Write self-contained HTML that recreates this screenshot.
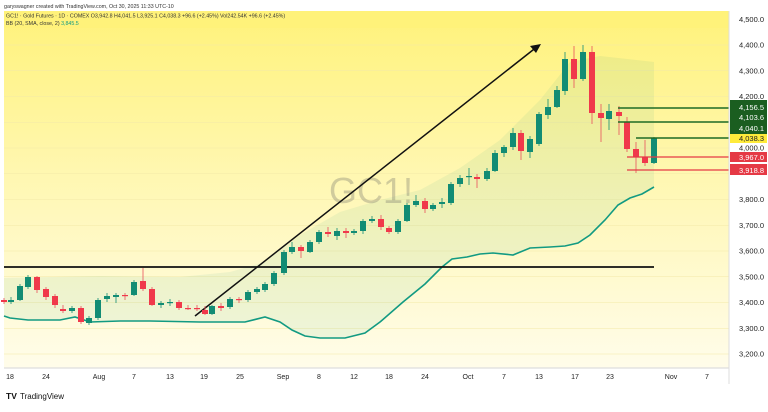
<!DOCTYPE html>
<html><head><meta charset="utf-8"><style>
html,body{margin:0;padding:0;background:#fff;}
body{width:768px;height:407px;overflow:hidden;font-family:"Liberation Sans",sans-serif;}
svg text{font-family:"Liberation Sans",sans-serif;}
</style></head><body>
<svg id="s" width="768" height="407" viewBox="0 0 768 407" xmlns="http://www.w3.org/2000/svg">
<defs>
<linearGradient id="bg" x1="0" y1="0" x2="0" y2="1">
<stop offset="0" stop-color="#fff27a"/>
<stop offset="0.45" stop-color="#fff7b0"/>
<stop offset="1" stop-color="#fffcea"/>
</linearGradient>
</defs>
<rect x="0" y="0" width="768" height="407" fill="#fff"/>
<rect x="4" y="11" width="725" height="357" fill="url(#bg)"/>
<g id="grid" stroke="#f3e9a8" stroke-width="0.6"></g>
<path id="band" fill="rgba(8,153,129,0.07)" stroke="none"/>
<text x="371" y="203" font-size="36" fill="rgba(120,120,110,0.35)" text-anchor="middle">GC1!</text>
<path id="lower" fill="none" stroke="#129a82" stroke-width="1.6"/>
<line x1="4" y1="267" x2="654" y2="267" stroke="#111" stroke-width="1.8"/>
<line x1="195" y1="316" x2="538" y2="46" stroke="#111" stroke-width="1.5"/>
<path d="M541,44 L530,46 L536,53 Z" fill="#111"/>
<g id="c"></g>
<line x1="618" y1="108" x2="729" y2="108" stroke="#1e6b25" stroke-width="1.6"/>
<line x1="618" y1="122" x2="729" y2="122" stroke="#1e6b25" stroke-width="1.6"/>
<line x1="636" y1="138" x2="729" y2="138" stroke="#1e6b25" stroke-width="1.6"/>
<line x1="627" y1="157" x2="729" y2="157" stroke="#e53945" stroke-width="1.2"/>
<line x1="627" y1="170" x2="729" y2="170" stroke="#e53945" stroke-width="1.2"/>
<rect x="4" y="11" width="725" height="17" fill="#fff27a"/>
<text x="4" y="8" font-size="5.3" fill="#333">garyswagner created with TradingView.com, Oct 30, 2025 11:33 UTC-10</text>
<text x="6" y="17.5" font-size="5.3" fill="#333">GC1! · Gold Futures · 1D · COMEX  O3,942.8  H4,041.5  L3,925.1  C4,038.3  +96.6 (+2.45%)  Vol242.54K  +96.6 (+2.45%)</text>
<text x="6" y="25" font-size="5.3" fill="#333">BB (20, SMA, close, 2) <tspan fill="#129a82">3,845.5</tspan></text>
<line x1="729" y1="11" x2="729" y2="384" stroke="#ddd" stroke-width="1"/>
<line x1="4" y1="368" x2="729" y2="368" stroke="#ddd" stroke-width="1.2"/>
<g id="ax" font-size="7.5" fill="#222"></g>
<rect x="730" y="100" width="37" height="34" fill="#1b5e20"/>
<text x="764" y="110" font-size="7.5" fill="#fff" text-anchor="end">4,156.5</text>
<text x="764" y="120" font-size="7.5" fill="#fff" text-anchor="end">4,103.6</text>
<text x="764" y="131" font-size="7.5" fill="#fff" text-anchor="end">4,040.1</text>
<rect x="730" y="134" width="37" height="9" fill="#ffeb3b"/>
<text x="764" y="141" font-size="7.5" fill="#222" text-anchor="end">4,038.3</text>
<rect x="730" y="152" width="37" height="10" fill="#e53945"/>
<text x="764" y="160" font-size="7.5" fill="#fff" text-anchor="end">3,967.0</text>
<rect x="730" y="164" width="37" height="11" fill="#e53945"/>
<text x="764" y="173" font-size="7.5" fill="#fff" text-anchor="end">3,918.8</text>
<g font-size="7" fill="#222" text-anchor="middle" id="xa"></g>
<text x="6" y="399" font-size="8.5" font-weight="bold" fill="#111">TV</text>
<text x="20" y="399" font-size="8" fill="#111">TradingView</text>
</svg>
<script>
var NS="http://www.w3.org/2000/svg";
function el(t,a,p){var e=document.createElementNS(NS,t);for(var k in a)e.setAttribute(k,a[k]);if(p)p.appendChild(e);return e;}
var Y=function(p){return 45+(4400-p)*0.2575;};
var g=document.getElementById('grid'),ax=document.getElementById('ax');
for(var p=3200;p<=4500;p+=100){var y=Y(p);el('line',{x1:4,y1:y,x2:729,y2:y},g);
 if(p==4100||p==3900)continue;
 var t=el('text',{x:764,y:y+2.5,'text-anchor':'end'},ax);t.textContent=(p/1000|0)+","+String(p%1000).padStart(3,"0")+".0";}
var xs=[[10,"18"],[46,"24"],[99,"Aug"],[134,"7"],[170,"13"],[204,"19"],[240,"25"],[283,"Sep"],[319,"8"],[354,"12"],[389,"18"],[425,"24"],[468,"Oct"],[504,"7"],[539,"13"],[575,"17"],[610,"23"],[671,"Nov"],[707,"7"]];
var xa=document.getElementById('xa');xs.forEach(function(d){var t=el('text',{x:d[0],y:379},xa);t.textContent=d[1];});
// [x, open, close, high, low] in px
var C=[[4,300,302,298,304],[11,302,300,297,304],[20,300,286,284,301],[28,287,277,275,289],[37,277,290,276,293],[46,289,297,287,300],[55,296,305,294,308],[63,309,311,305,313],[72,311,308,306,313],[81,308,322,306,324],[89,323,318,316,325],[98,318,300,298,320],[107,299,296,293,302],[116,297,295,293,303],[125,295,296,293,300],[134,295,282,280,296],[143,281,289,268,291],[152,289,305,287,306],[161,305,303,301,308],[170,303,302,299,306],[179,302,308,300,310],[188,308,308,305,310],[197,308,309,305,311],[205,310,314,306,315],[212,314,306,305,315],[221,306,308,303,311],[230,307,299,297,309],[239,299,300,297,303],[248,300,292,290,302],[257,292,289,287,294],[265,290,284,282,292],[274,284,273,271,286],[284,273,252,250,275],[292,252,247,242,254],[301,247,251,245,258],[310,252,242,240,253],[319,242,232,230,244],[328,232,234,227,237],[337,236,231,228,240],[346,231,233,228,238],[354,233,231,229,235],[363,231,221,219,234],[372,221,219,216,223],[381,219,227,215,230],[389,228,232,226,234],[398,232,221,219,234],[407,221,205,203,222],[416,205,201,195,207],[425,201,209,198,213],[433,209,205,203,211],[442,204,202,198,208],[451,203,184,182,205],[460,184,178,175,187],[469,177,176,168,185],[477,177,179,174,188],[487,179,171,168,181],[495,171,153,150,172],[504,153,147,145,157],[513,147,133,128,150],[521,133,151,130,160],[530,152,139,136,158],[539,144,114,112,146],[548,115,107,99,119],[557,107,90,86,108],[565,91,59,52,95],[574,59,79,46,88],[583,79,52,45,81],[592,52,113,46,124],[601,113,118,104,142],[609,119,111,104,130],[619,112,116,106,135],[627,122,149,117,152],[636,149,157,142,173],[645,157,163,140,166],[654,163,138,137,164]];
var cg=document.getElementById('c');
C.forEach(function(d){var up=d[2]<d[1];var col=up?"#128c74":"#f0394b";
 el('line',{x1:d[0],y1:d[3],x2:d[0],y2:d[4],stroke:up?"#128c74":"#e8505c","stroke-width":0.8},cg);
 var t=Math.min(d[1],d[2]),h=Math.max(1.2,Math.abs(d[1]-d[2]));
 el('rect',{x:d[0]-3,y:t,width:6,height:h,fill:col},cg);});
var L=[[4,316],[10,318],[28,320],[60,320],[75,317],[90,322],[120,321],[150,321],[200,322],[245,322],[265,317],[280,322],[292,330],[305,336],[320,338],[345,338],[365,333],[380,322],[403,302],[425,284],[442,267],[452,259],[467,257],[480,254],[493,253],[513,255],[530,248],[550,247],[565,246],[578,243],[590,235],[605,220],[618,205],[630,198],[642,194],[654,187]];
var U=[[4,278],[100,276],[180,277],[230,272],[265,262],[300,235],[340,212],[380,200],[420,190],[460,168],[500,140],[540,100],[570,62],[600,56],[654,62]];
document.getElementById('lower').setAttribute('d','M'+L.map(function(p){return p.join(',')}).join(' L'));
var dd='M'+U.map(function(p){return p.join(',')}).join(' L')+' L'+L.slice().reverse().map(function(p){return p.join(',')}).join(' L')+' Z';
document.getElementById('band').setAttribute('d',dd);
</script>
</body></html>
